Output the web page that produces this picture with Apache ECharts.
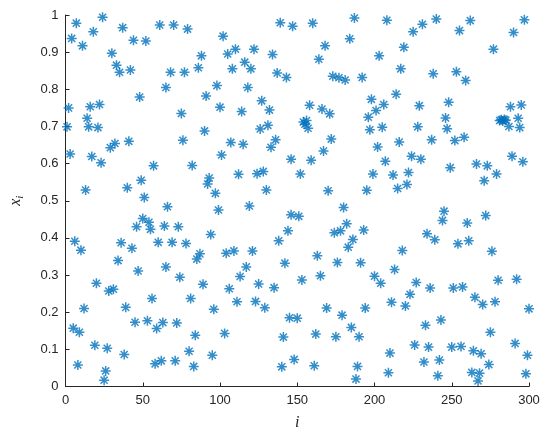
<!DOCTYPE html>
<html>
<head>
<meta charset="utf-8">
<script src="https://cdn.jsdelivr.net/npm/echarts@6/dist/echarts.min.js"></script>
<style>
html, body { margin: 0; padding: 0; background: #fff; }
#chart { width: 550px; height: 437px; }
</style>
</head>
<body>
<div id="chart"></div>
<script>
// index i of each sample
const iValues = [
  7, 24, 4, 11, 18, 37, 44, 52, 61, 30, 33, 35, 42, 65, 48, 2, 16, 22, 14, 1, 15, 21, 29, 32, 41, 3, 17, 23, 57, 49, 13, 40, 51,
  70, 79, 102, 88, 105, 110, 122, 134, 139, 147, 116, 120, 108, 86, 77, 68, 137, 143, 98, 118, 91, 127, 100, 114, 132, 75, 90, 126, 131, 76, 107, 115, 136, 133, 101, 146, 82, 93, 92, 97, 112, 124, 128, 130,
  160, 187, 208, 231, 225, 168, 184, 219, 203, 164, 217, 173, 177, 181, 192, 214, 198, 206, 201, 196, 197, 205, 229, 228, 158, 166, 171, 154, 155, 156, 157, 172, 167, 159, 152, 170, 195, 202, 216, 207, 199, 212, 222, 224, 230, 215, 221,
  240, 262, 255, 297, 290, 277, 238, 253, 259, 248, 246, 247, 237, 252, 258, 288, 295, 293, 294, 281, 282, 283, 284, 285, 287, 249, 266, 273, 279, 271, 289, 296,
  66, 6, 10, 36, 43, 46, 50, 54, 55, 60, 64, 34, 47, 65, 20, 28, 31, 12, 39, 56, 5, 9, 45, 53, 59, 63, 19, 27, 38, 8, 58, 62, 26, 25,
  99, 119, 146, 73, 94, 144, 69, 78, 138, 87, 85, 104, 109, 121, 74, 117, 113, 142, 89, 106, 125, 135, 81, 111, 123, 129, 96, 145, 150, 72, 84, 103, 141, 80, 95, 71, 83, 140, 148,
  180, 151, 182, 174, 178, 193, 186, 183, 218, 163, 176, 191, 165, 153, 213, 200, 204, 227, 223, 211, 220, 169, 194, 179, 185, 190, 175, 162, 226, 210, 161, 189, 188, 209, 232,
  245, 244, 260, 272, 234, 239, 254, 261, 276, 236, 251, 257, 265, 270, 278, 280, 292, 300, 233, 243, 275, 235, 250, 256, 264, 269, 291, 299, 242, 274, 241, 263, 268, 267, 298
];
// value x_i of each sample
const xValues = [
  0.978, 0.994, 0.937, 0.917, 0.955, 0.966, 0.932, 0.930, 0.973, 0.897, 0.865, 0.846, 0.852, 0.805, 0.779, 0.750, 0.753, 0.759, 0.722, 0.699, 0.699, 0.697, 0.643, 0.654, 0.660, 0.626, 0.619, 0.602, 0.594, 0.555, 0.529, 0.535, 0.509,
  0.973, 0.962, 0.943, 0.890, 0.895, 0.908, 0.908, 0.894, 0.979, 0.970, 0.873, 0.855, 0.855, 0.858, 0.846, 0.846, 0.844, 0.832, 0.810, 0.805, 0.782, 0.769, 0.752, 0.740, 0.744, 0.735, 0.688, 0.693, 0.703, 0.663, 0.657, 0.652, 0.664, 0.644, 0.623, 0.612, 0.595, 0.561, 0.545, 0.520, 0.571, 0.573, 0.579, 0.529,
  0.978, 0.992, 0.986, 0.975, 0.955, 0.917, 0.936, 0.913, 0.890, 0.881, 0.855, 0.835, 0.831, 0.825, 0.832, 0.787, 0.773, 0.759, 0.743, 0.725, 0.691, 0.698, 0.756, 0.699, 0.757, 0.747, 0.734, 0.712, 0.706, 0.716, 0.695, 0.666, 0.634, 0.609, 0.572, 0.527, 0.528, 0.645, 0.658, 0.606, 0.572, 0.569, 0.576, 0.620, 0.612, 0.533, 0.544,
  0.989, 0.985, 0.958, 0.987, 0.953, 0.908, 0.842, 0.847, 0.824, 0.765, 0.723, 0.694, 0.664, 0.662, 0.671, 0.753, 0.758, 0.722, 0.697, 0.716, 0.718, 0.715, 0.719, 0.717, 0.700, 0.589, 0.599, 0.594, 0.572, 0.554, 0.620, 0.605,
  0.484, 0.391, 0.367, 0.387, 0.372, 0.430, 0.452, 0.442, 0.423, 0.388, 0.432, 0.339, 0.311, 0.322, 0.278, 0.257, 0.262, 0.210, 0.213, 0.237, 0.157, 0.146, 0.173, 0.177, 0.156, 0.172, 0.111, 0.103, 0.086, 0.058, 0.061, 0.069, 0.042, 0.017,
  0.475, 0.486, 0.462, 0.430, 0.409, 0.419, 0.388, 0.385, 0.392, 0.357, 0.343, 0.359, 0.365, 0.365, 0.294, 0.322, 0.296, 0.332, 0.275, 0.263, 0.276, 0.266, 0.237, 0.228, 0.229, 0.212, 0.208, 0.185, 0.184, 0.171, 0.138, 0.143, 0.133, 0.095, 0.084, 0.069, 0.054, 0.053, 0.073,
  0.482, 0.458, 0.438, 0.414, 0.419, 0.421, 0.396, 0.375, 0.366, 0.352, 0.334, 0.333, 0.298, 0.287, 0.315, 0.297, 0.278, 0.280, 0.248, 0.227, 0.217, 0.211, 0.211, 0.192, 0.159, 0.134, 0.134, 0.141, 0.112, 0.090, 0.056, 0.054, 0.020, 0.037, 0.066,
  0.472, 0.447, 0.440, 0.460, 0.411, 0.395, 0.384, 0.392, 0.364, 0.265, 0.265, 0.268, 0.240, 0.221, 0.228, 0.286, 0.289, 0.209, 0.165, 0.179, 0.146, 0.106, 0.106, 0.108, 0.096, 0.088, 0.116, 0.084, 0.071, 0.059, 0.029, 0.038, 0.036, 0.015, 0.034
];

// asterisk marker like MATLAB '*'
const asterisk = 'path://M0 8.5H20V11.5H0Z M8.5 0H11.5V20H8.5Z'
  + ' M3.99 1.87L18.13 16.01L16.01 18.13L1.87 3.99Z'
  + ' M16.01 1.87L18.13 3.99L3.99 18.13L1.87 16.01Z';

const axisColor = '#262626';
const labelFont = 'Liberation Sans, Arial, sans-serif';

const myChart = echarts.init(document.getElementById('chart'));
const option = {
  animation: false,
  grid: {
    left: 58,
    right: 21,
    top: 15,
    bottom: 50.5,
  },
  xAxis: {
    type: 'value',
    min: 0,
    max: 300,
    interval: 50,
    name: 'i',
    nameLocation: 'middle',
    nameGap: 28,
    nameTextStyle: {
      fontFamily: 'Liberation Serif, Times New Roman, serif',
      fontStyle: 'italic',
      fontSize: 16,
      color: axisColor,
    },
    axisLine: { lineStyle: { color: axisColor, width: 1 } },
    axisTick: { inside: true, length: 4, lineStyle: { color: axisColor } },
    axisLabel: { color: axisColor, fontSize: 13, fontFamily: labelFont, margin: 7 },
    splitLine: { show: false },
  },
  yAxis: {
    type: 'value',
    min: 0,
    max: 1,
    interval: 0.1,
    name: '{x|x}{s|i}',
    nameLocation: 'middle',
    nameGap: 40,
    nameRotate: 90,
    nameTextStyle: {
      color: axisColor,
      rich: {
        x: {
          fontFamily: 'Liberation Serif, Times New Roman, serif',
          fontStyle: 'italic',
          fontSize: 16,
          color: axisColor,
        },
        s: {
          fontFamily: 'Liberation Serif, Times New Roman, serif',
          fontStyle: 'italic',
          fontSize: 11,
          color: axisColor,
          verticalAlign: 'bottom',
          padding: [8, 0, 0, 0],
        },
      },
    },
    axisLine: { show: true, lineStyle: { color: axisColor, width: 1 } },
    axisTick: { show: true, inside: true, length: 4, lineStyle: { color: axisColor } },
    axisLabel: { color: axisColor, fontSize: 13, fontFamily: labelFont, margin: 7 },
    splitLine: { show: false },
  },
  series: [
    {
      type: 'scatter',
      symbol: asterisk,
      symbolSize: 10,
      itemStyle: { color: '#0072BD' },
      data: iValues.map((v, k) => [v, xValues[k]]),
    },
  ],
};
myChart.setOption(option);
</script>
</body>
</html>
